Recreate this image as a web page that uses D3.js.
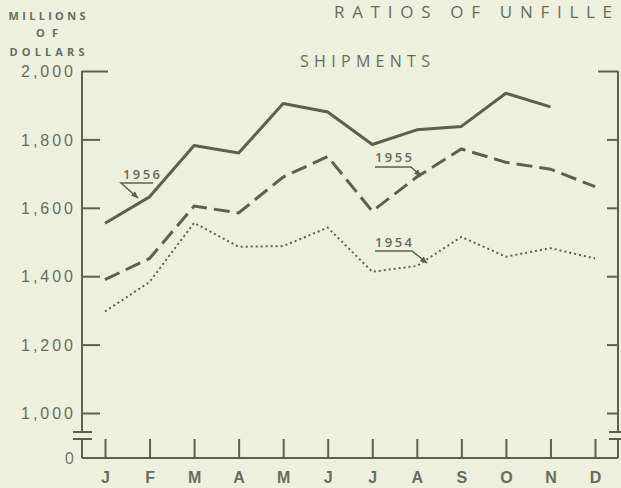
<!DOCTYPE html>
<html><head><meta charset="utf-8">
<script src="https://cdn.jsdelivr.net/npm/d3@7"></script>
<style>
html,body{margin:0;padding:0;background:#eef0de;}
svg{display:block;font-family:"Open Sans","DejaVu Sans",sans-serif;}
</style></head>
<body><svg id="c" width="621" height="488"></svg>
<script>
const months = ["J","F","M","A","M","J","J","A","S","O","N","D"];
const s1956 = [1555,1632,1782,1760,1905,1880,1785,1828,1838,1935,1895];
const s1955 = [1390,1452,1605,1585,1690,1750,1590,1690,1772,1733,1713,1662];
const s1954 = [1297,1383,1556,1486,1488,1542,1413,1430,1515,1457,1482,1452];
const yTicks = [1000,1200,1400,1600,1800,2000];

const ink = "#59624e", txt = "#676d5b";
const svg = d3.select("#c");
svg.append("rect").attr("width",621).attr("height",488).attr("fill","#eef0de");

const x = d3.scalePoint().domain(d3.range(12)).range([105,595]);
const y = d3.scaleLinear().domain([1000,2000]).range([413,71]);
const yBase = 458, xL = 82, xR = 618, brk1 = 432, brk2 = 439;

// left axis
const gl = svg.append("g").attr("transform",`translate(${xL},0)`)
  .call(d3.axisLeft(y).tickValues(yTicks).tickSizeInner(-18).tickSizeOuter(0).tickPadding(9).tickFormat(d3.format(",")));
gl.select(".domain").remove();
gl.selectAll(".tick line").attr("stroke",ink).attr("stroke-width",2)
  .filter(d=>d===2000).attr("x2",26);
gl.selectAll(".tick text").attr("fill",txt).attr("font-size",16).attr("font-weight",500).attr("dy","0.35em")
  .attr("textLength",52).attr("lengthAdjust","spacing");

// right axis
const gr = svg.append("g").attr("transform",`translate(${xR},0)`)
  .call(d3.axisRight(y).tickValues(yTicks).tickSizeInner(-11).tickSizeOuter(0).tickFormat(""));
gr.select(".domain").remove();
gr.selectAll(".tick line").attr("stroke",ink).attr("stroke-width",2)
  .filter(d=>d===2000).attr("x2",-20);

// axis lines with breaks
const axLines = [[xL,71,xL,brk1],[xL,brk2,xL,yBase],[xR,71,xR,brk1],[xR,brk2,xR,yBase],[xL,yBase,xR,yBase],
  [73,brk1,92,brk1],[73,brk2,92,brk2],[609,brk1,621,brk1],[609,brk2,621,brk2]];
svg.selectAll("line.ax").data(axLines).join("line").attr("class","ax")
  .attr("x1",d=>d[0]).attr("y1",d=>d[1]).attr("x2",d=>d[2]).attr("y2",d=>d[3])
  .attr("stroke",ink).attr("stroke-width",2);
svg.append("text").attr("x",74).attr("y",yBase).attr("dy","0.35em").attr("text-anchor","end")
  .attr("fill",txt).attr("font-size",16).attr("font-weight",500).text("0");

// x axis
const gx = svg.append("g").attr("transform",`translate(0,${yBase})`)
  .call(d3.axisBottom(x).tickSizeInner(-19).tickSizeOuter(0).tickPadding(14).tickFormat(i=>months[i]));
gx.select(".domain").remove();
gx.selectAll(".tick line").attr("stroke",ink).attr("stroke-width",2);
gx.selectAll(".tick text").attr("fill",txt).attr("font-size",16).attr("font-weight",600);

// lines
const line = d3.line().x((d,i)=>x(i)).y(d=>y(d));
svg.append("path").datum(s1956).attr("d",line).attr("fill","none").attr("stroke",ink).attr("stroke-width",3).attr("stroke-linejoin","round");
svg.append("path").datum(s1955).attr("d",line).attr("fill","none").attr("stroke",ink).attr("stroke-width",3).attr("stroke-dasharray","16,7");
svg.append("path").datum(s1954).attr("d",line).attr("fill","none").attr("stroke",ink).attr("stroke-width",2).attr("stroke-dasharray","2,3");

// annotations
svg.append("defs").append("marker").attr("id","ar").attr("viewBox","0 0 10 10").attr("refX",9).attr("refY",5)
  .attr("markerWidth",5).attr("markerHeight",5).attr("orient","auto")
  .append("path").attr("d","M0,1L10,5L0,9Z").attr("fill",ink);
const notes = [
  {t:"1956", tx:123, ty:174, path:"M153,183L121,183L138,198"},
  {t:"1955", tx:375, ty:157, path:"M375,167L411,167L421,176"},
  {t:"1954", tx:375, ty:242, path:"M375,251L412,251L427,263"}
];
notes.forEach(n=>{
  svg.append("text").attr("x",n.tx).attr("y",n.ty).attr("dy","0.35em").attr("fill",txt)
    .attr("font-size",13).attr("font-weight",600).attr("textLength",37).attr("lengthAdjust","spacing").text(n.t);
  svg.append("path").attr("d",n.path).attr("fill","none").attr("stroke",ink).attr("stroke-width",1.5).attr("marker-end","url(#ar)");
});

// titles
svg.append("text").attr("x",334).attr("y",18).attr("fill",txt).attr("font-size",17).attr("font-weight",500)
  .attr("textLength",278).attr("lengthAdjust","spacing").text("RATIOS OF UNFILLE");
svg.append("text").attr("x",300).attr("y",67).attr("fill",txt).attr("font-size",16).attr("font-weight",500)
  .attr("textLength",130).attr("lengthAdjust","spacing").text("SHIPMENTS");
const yl = [["MILLIONS",20,77],["OF",37,22],["DOLLARS",56,75]];
yl.forEach(([t,yy,w])=>svg.append("text").attr("x",47).attr("y",yy).attr("text-anchor","middle")
  .attr("fill",txt).attr("font-size",11).attr("font-weight",700).attr("textLength",w).attr("lengthAdjust","spacing").text(t));
</script></body></html>
